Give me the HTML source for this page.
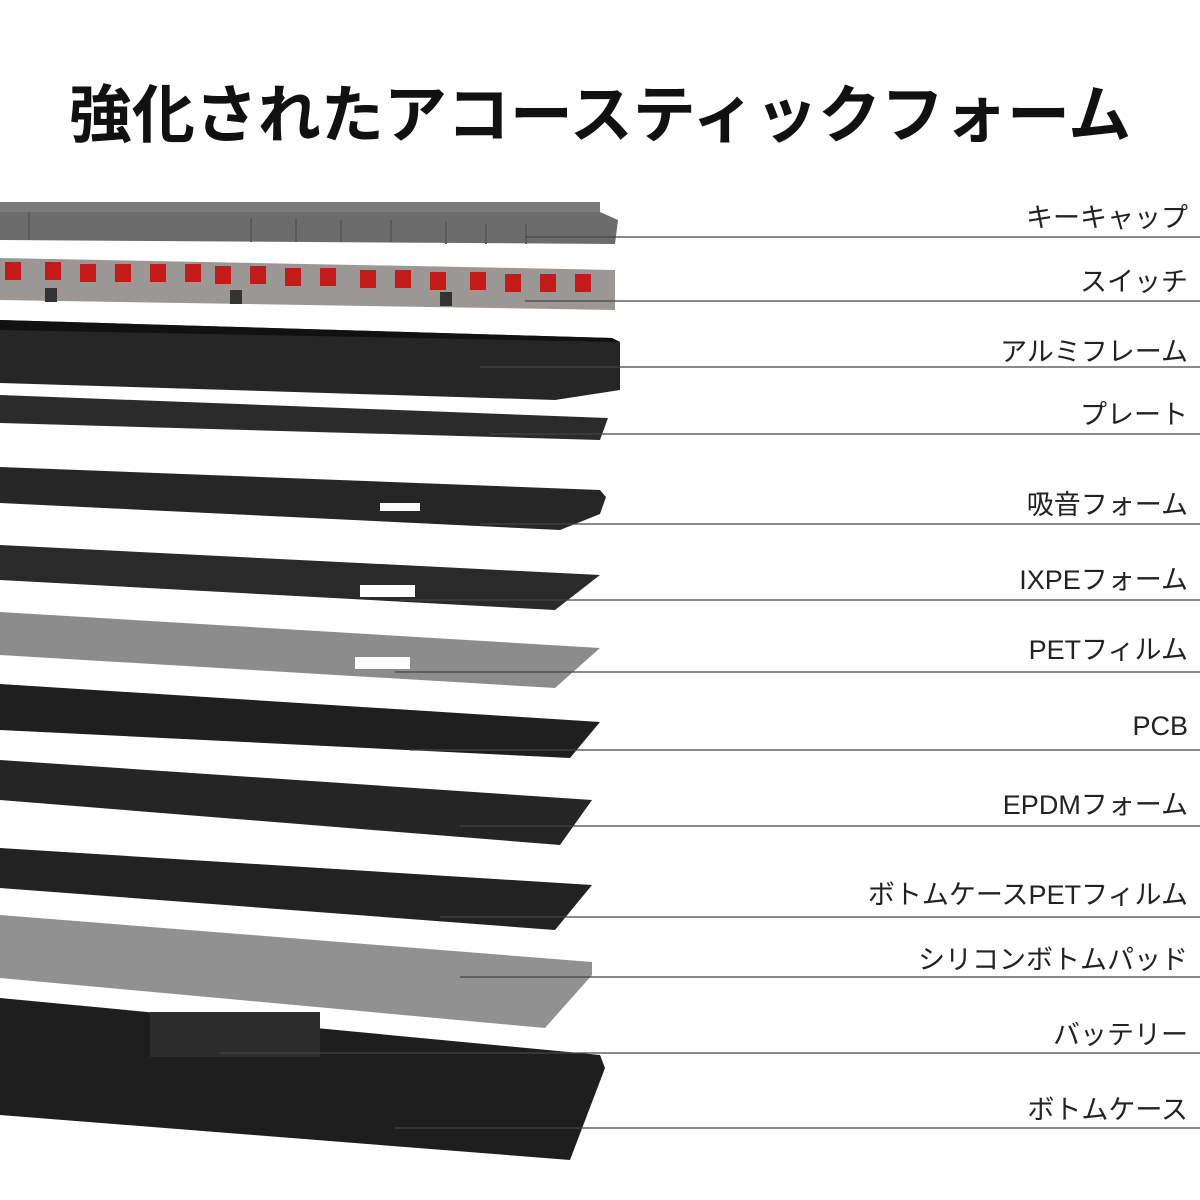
<!DOCTYPE html>
<html><head><meta charset="utf-8"><style>
body{margin:0;width:1200px;height:1200px;background:#fff;overflow:hidden;position:relative;font-family:"Liberation Sans","Noto Sans CJK JP",sans-serif}
.t{position:absolute;left:0;top:76px;width:1200px;text-align:center;font-size:63px;line-height:80px;font-weight:bold;color:#111}
.l{position:absolute;right:12px;font-size:27px;color:#222;white-space:nowrap}
</style></head><body>
<div class="t">強化されたアコースティックフォーム</div>
<svg width="1200" height="1200" style="position:absolute;left:0;top:0">
<!-- keycaps -->
<polygon points="0,202 600,212 618,220 615,244 0,240" fill="#6c6c6c"/>
<rect x="0" y="202" width="600" height="10" fill="#7a7a7a"/>
<g fill="#5a5a5a"><rect x="28" y="212" width="2" height="28"/><rect x="250" y="218" width="2" height="24"/><rect x="295" y="218" width="2" height="24"/><rect x="340" y="220" width="2" height="22"/><rect x="390" y="220" width="2" height="22"/><rect x="445" y="222" width="2" height="22"/><rect x="485" y="224" width="2" height="20"/><rect x="525" y="224" width="2" height="20"/></g>
<!-- switches -->
<polygon points="0,258 615,270 615,310 0,300" fill="#9a9794"/>
<g fill="#c51a1a">
<rect x="5" y="262" width="16" height="18"/><rect x="45" y="262" width="16" height="18"/><rect x="80" y="264" width="16" height="18"/><rect x="115" y="264" width="16" height="18"/><rect x="150" y="264" width="16" height="18"/><rect x="185" y="264" width="16" height="18"/><rect x="215" y="266" width="16" height="18"/><rect x="250" y="266" width="16" height="18"/><rect x="285" y="268" width="16" height="18"/><rect x="320" y="268" width="16" height="18"/><rect x="360" y="270" width="16" height="18"/><rect x="395" y="270" width="16" height="18"/><rect x="430" y="272" width="16" height="18"/><rect x="470" y="272" width="16" height="18"/><rect x="505" y="274" width="16" height="18"/><rect x="540" y="274" width="16" height="18"/><rect x="575" y="274" width="16" height="18"/>
</g>
<g fill="#333"><rect x="45" y="288" width="12" height="14"/><rect x="230" y="290" width="12" height="14"/><rect x="440" y="292" width="12" height="14"/></g>
<!-- aluminum frame -->
<polygon points="0,320 612,338 620,342 620,390 555,400 0,383" fill="#262626"/>
<polygon points="0,320 612,338 620,342 0,330" fill="#111"/>
<!-- plate -->
<polygon points="0,395 608,418 600,440 0,423" fill="#2b2b2b"/>
<!-- sound foam -->
<polygon points="0,467 600,490 606,497 600,514 560,530 0,503" fill="#262626"/>
<rect x="380" y="503" width="40" height="8" fill="#fff"/>
<!-- IXPE -->
<polygon points="0,545 600,575 555,610 0,580" fill="#2a2a2a"/>
<rect x="360" y="585" width="55" height="12" fill="#fff"/>
<!-- PET -->
<polygon points="0,612 600,648 555,688 0,655" fill="#8c8c8c"/>
<rect x="355" y="657" width="55" height="12" fill="#fff"/>
<!-- PCB -->
<polygon points="0,684 600,722 570,758 0,730" fill="#1f1f1f"/>
<!-- EPDM -->
<polygon points="0,760 592,800 560,845 0,800" fill="#252525"/>
<!-- bottom PET -->
<polygon points="0,848 592,885 555,930 0,888" fill="#222"/>
<!-- silicone pad -->
<polygon points="0,915 592,962 592,975 545,1028 0,978" fill="#919191"/>
<!-- bottom case -->
<polygon points="0,998 600,1055 605,1068 570,1160 0,1115" fill="#1e1e1e"/>
<rect x="150" y="1012" width="170" height="45" fill="#2c2c2c"/>
<g stroke="#444" stroke-width="1.3">
<line x1="525" y1="237" x2="1200" y2="237"/>
<line x1="525" y1="301" x2="1200" y2="301"/>
<line x1="480" y1="367" x2="1200" y2="367"/>
<line x1="490" y1="434" x2="1200" y2="434"/>
<line x1="480" y1="524" x2="1200" y2="524"/>
<line x1="400" y1="600" x2="1200" y2="600"/>
<line x1="395" y1="672" x2="1200" y2="672"/>
<line x1="410" y1="750" x2="1200" y2="750"/>
<line x1="460" y1="826" x2="1200" y2="826"/>
<line x1="440" y1="917" x2="1200" y2="917"/>
<line x1="460" y1="977" x2="1200" y2="977"/>
<line x1="220" y1="1053" x2="1200" y2="1053"/>
<line x1="395" y1="1128" x2="1200" y2="1128"/>
</g>
</svg>
<div class="l" style="top:196px">キーキャップ</div>
<div class="l" style="top:260px">スイッチ</div>
<div class="l" style="top:330px">アルミフレーム</div>
<div class="l" style="top:393px">プレート</div>
<div class="l" style="top:483px">吸音フォーム</div>
<div class="l" style="top:558px">IXPEフォーム</div>
<div class="l" style="top:628px">PETフィルム</div>
<div class="l" style="top:711px">PCB</div>
<div class="l" style="top:783px">EPDMフォーム</div>
<div class="l" style="top:873px">ボトムケースPETフィルム</div>
<div class="l" style="top:938px">シリコンボトムパッド</div>
<div class="l" style="top:1013px">バッテリー</div>
<div class="l" style="top:1088px">ボトムケース</div>
</body></html>
